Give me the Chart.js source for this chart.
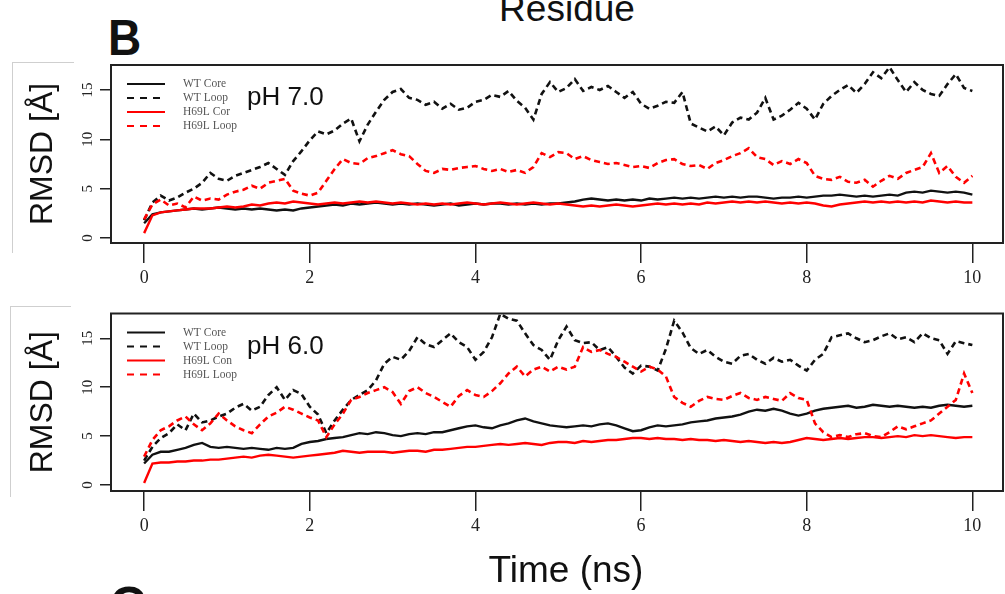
<!DOCTYPE html>
<html>
<head>
<meta charset="utf-8">
<script src="https://cdn.jsdelivr.net/npm/chart.js@4.4.1/dist/chart.umd.min.js"></script>
<style>
  html, body { margin: 0; padding: 0; background: #fff; }
  body { width: 1005px; height: 594px; position: relative; overflow: hidden; font-family: "Liberation Sans", Arial, sans-serif; }
  canvas { position: absolute; left: 0; }
  #phTop { top: 0; }
  #phBottom { top: 300px; }
  .txt { position: absolute; white-space: nowrap; line-height: 1; color: #111; }
  .bracket { position: absolute; border-top: 1px solid #cfcfcf; border-left: 1px solid #cfcfcf; }
</style>
</head>
<body>
<div class="txt" style="left:567px; top:-10px; font-size:37px; transform:translateX(-50%);">Residue</div>
<div class="txt" style="left:108px; top:13px; font-size:50px; font-weight:bold; transform:scaleX(0.92); transform-origin:left;">B</div>
<div class="bracket" style="left:12px; top:62px; width:61px; height:190px;"></div>
<div class="bracket" style="left:10px; top:306px; width:60px; height:190px;"></div>
<canvas id="phTop" width="1005" height="300"></canvas>
<canvas id="phBottom" width="1005" height="294"></canvas>
<div class="txt" style="left:566px; top:551px; font-size:37px; transform:translateX(-50%);">Time (ns)</div>
<div class="txt" style="left:110px; top:580px; font-size:50px; font-weight:bold;">C</div>
<script>
// time axis, 0..10 ns every 0.1 ns
const time = Array.from({ length: 101 }, (_, i) => +(i * 0.1).toFixed(1));
const timeTicks = [0, 2, 4, 6, 8, 10];
const rmsdTicks = [0, 5, 10, 15];

const namesPh7 = ['WT Core', 'WT Loop', 'H69L Cor', 'H69L Loop'];
const namesPh6 = ['WT Core', 'WT Loop', 'H69L Con', 'H69L Loop'];

// pH 7.0
const ph7WtCore = [1.5,2.4,2.6,2.7,2.8,2.9,3.0,2.9,3.0,3.1, 3.0,2.9,3.0,2.9,3.0,2.9,2.8,2.9,2.8,3.0,
  3.1,3.2,3.3,3.4,3.3,3.5,3.4,3.5,3.6,3.5, 3.4,3.5,3.4,3.5,3.4,3.3,3.4,3.5,3.3,3.4,
  3.5,3.4,3.5,3.5,3.4,3.5,3.4,3.5,3.4,3.5, 3.5,3.6,3.7,3.9,4.0,3.9,3.8,3.9,3.8,3.9,
  3.8,4.0,3.9,4.0,4.1,4.0,4.1,4.0,4.1,4.2, 4.1,4.2,4.1,4.2,4.2,4.1,4.0,4.1,4.1,4.2,
  4.1,4.2,4.3,4.3,4.4,4.3,4.2,4.3,4.2,4.3, 4.4,4.3,4.6,4.7,4.6,4.8,4.7,4.6,4.7,4.6, 4.4];
const ph7WtLoop = [1.8,3.6,4.3,3.8,4.1,4.6,5.0,5.6,6.6,6.0, 5.8,6.3,6.6,6.9,7.2,7.6,7.0,6.4,7.8,8.8,
  9.9,10.8,10.5,10.9,11.6,12.1,9.8,11.5,12.8,14.0, 14.8,15.1,14.2,14.0,13.5,13.8,13.1,13.6,13.0,13.2,
  13.8,14.0,14.5,14.3,14.9,13.9,13.2,12.0,14.6,15.8, 14.8,15.2,16.1,14.9,15.3,15.0,15.4,14.8,14.2,14.8,
  13.6,13.1,13.4,13.8,13.7,14.8,11.6,11.2,10.8,11.3, 10.4,11.7,12.2,12.0,12.7,14.2,12.0,12.4,13.0,13.7,
  13.1,12.0,13.6,14.4,15.0,15.5,14.7,15.6,16.8,16.2, 17.3,16.0,14.8,15.8,15.0,14.6,14.4,15.6,16.6,15.2, 14.9];
const ph7MutCore = [0.5,2.3,2.6,2.7,2.8,2.9,3.0,3.0,3.0,3.1, 3.2,3.1,3.2,3.4,3.3,3.5,3.6,3.5,3.7,3.6,
  3.5,3.4,3.5,3.6,3.5,3.6,3.7,3.6,3.7,3.6, 3.5,3.6,3.5,3.4,3.5,3.4,3.5,3.4,3.5,3.6,
  3.5,3.4,3.5,3.6,3.5,3.4,3.5,3.6,3.5,3.4, 3.5,3.4,3.3,3.2,3.3,3.2,3.3,3.4,3.3,3.2,
  3.3,3.4,3.5,3.4,3.5,3.4,3.5,3.4,3.6,3.5, 3.6,3.7,3.6,3.7,3.6,3.7,3.6,3.5,3.6,3.5,
  3.6,3.5,3.3,3.2,3.4,3.5,3.6,3.7,3.6,3.7, 3.6,3.7,3.6,3.7,3.6,3.8,3.7,3.6,3.7,3.6, 3.6];
const ph7MutLoop = [1.9,3.4,3.9,3.3,3.5,3.1,4.2,3.8,4.0,3.9, 4.4,4.7,4.9,5.3,5.0,5.6,5.8,6.0,4.8,4.5,
  4.3,4.6,5.8,7.0,8.0,7.6,7.5,8.1,8.3,8.6, 8.9,8.5,8.3,7.5,6.8,6.6,7.0,6.9,7.1,7.2,
  7.3,7.0,6.8,7.0,6.7,6.9,6.6,7.2,8.6,8.2, 8.7,8.6,8.0,8.3,7.9,7.7,7.5,7.6,7.4,7.2,
  7.3,7.1,7.6,7.9,8.0,7.5,7.3,7.4,7.0,7.6, 7.9,8.3,8.6,9.1,8.2,8.0,7.4,7.8,7.5,8.0,
  7.6,6.3,6.0,5.9,6.2,5.7,5.6,5.9,5.2,5.8, 6.3,6.0,6.6,6.9,7.2,8.6,6.6,7.3,6.2,5.6, 6.3];

// pH 6.0
const ph6WtCore = [2.2,3.1,3.4,3.4,3.6,3.8,4.1,4.3,3.9,3.8, 3.9,3.8,3.7,3.8,3.7,3.6,3.8,3.7,3.8,4.2,
  4.4,4.5,4.7,4.8,4.9,5.1,5.3,5.2,5.4,5.3, 5.1,5.0,5.2,5.3,5.2,5.4,5.4,5.6,5.8,6.0,
  6.1,5.9,5.8,6.1,6.3,6.6,6.8,6.5,6.3,6.1, 6.0,5.9,6.0,6.1,6.0,6.2,6.3,6.1,5.8,5.5,
  5.6,5.9,6.1,6.0,6.1,6.2,6.4,6.5,6.6,6.8, 6.9,7.0,7.2,7.5,7.7,7.6,7.8,7.6,7.3,7.1,
  7.3,7.6,7.8,7.9,8.0,8.1,7.9,8.0,8.2,8.1, 8.0,8.1,8.0,7.9,8.0,7.9,8.1,8.2,8.1,8.0, 8.1];
const ph6WtLoop = [2.5,3.9,4.8,5.3,6.2,5.6,7.3,6.4,6.6,7.0, 7.3,7.9,8.3,7.6,8.0,9.2,10.0,8.7,9.7,9.3,
  8.0,7.2,5.3,6.6,7.7,8.7,9.2,9.7,10.7,12.4, 13.1,12.8,13.7,15.1,14.4,14.1,14.8,15.5,14.6,14.1,
  12.8,13.6,15.1,17.5,17.0,16.8,15.5,14.3,13.8,12.8, 14.8,16.2,14.8,14.5,14.6,13.8,14.1,13.1,12.0,11.4,
  12.2,12.1,11.7,13.9,16.8,15.6,14.0,13.4,13.8,13.1, 12.6,12.4,13.2,13.4,12.8,12.4,13.0,12.6,12.8,12.2,
  11.7,12.8,13.4,15.1,15.3,15.5,15.0,14.6,14.8,15.2, 15.5,14.9,15.1,14.6,15.5,15.0,14.8,13.4,14.7,14.5, 14.3];
const ph6MutCore = [0.2,2.2,2.3,2.3,2.4,2.4,2.5,2.5,2.6,2.6, 2.7,2.8,2.9,2.8,3.0,3.1,3.0,2.9,2.8,2.9,
  3.0,3.1,3.2,3.3,3.5,3.4,3.3,3.4,3.4,3.4, 3.3,3.4,3.5,3.5,3.4,3.6,3.6,3.7,3.8,3.9,
  3.9,4.0,4.1,4.2,4.1,4.2,4.3,4.2,4.1,4.3, 4.4,4.4,4.3,4.5,4.4,4.5,4.6,4.6,4.7,4.8,
  4.8,4.7,4.8,4.7,4.7,4.6,4.7,4.6,4.6,4.5, 4.6,4.5,4.4,4.5,4.4,4.3,4.4,4.3,4.4,4.6,
  4.8,4.7,4.6,4.7,4.8,4.7,4.8,4.9,4.9,4.8, 4.9,5.0,4.9,5.1,5.0,5.1,5.0,4.9,4.8,4.9, 4.9];
const ph6MutLoop = [2.9,4.6,5.6,6.0,6.6,7.0,6.2,5.6,6.3,7.3, 6.6,6.0,5.6,5.3,6.2,7.0,7.4,8.0,7.7,7.3,
  6.9,6.6,4.9,6.2,7.3,8.7,9.0,9.4,9.7,10.0, 9.5,8.3,9.6,10.0,9.4,9.0,8.5,8.0,9.1,9.7,
  9.2,9.0,9.6,10.4,11.4,12.1,11.1,11.8,12.1,11.6, 12.1,11.8,12.1,14.1,13.6,13.8,13.4,13.1,12.6,12.1,
  11.6,12.1,11.8,11.1,9.0,8.4,8.0,8.6,9.0,8.8, 8.7,9.1,9.4,8.9,8.7,9.0,8.8,8.6,9.4,8.9,
  8.7,6.3,5.4,4.9,5.1,4.9,5.2,5.3,5.0,4.9, 5.4,6.0,5.7,6.0,6.3,6.6,7.3,8.0,8.7,11.4, 9.4];

const lineColors = ['#111', '#111', '#ff0000', '#ff0000'];
const lineDashes = [[], [6, 4], [], [6, 4]];

// box round the plot, in-plot legend and pH tag
const panelDecor = {
  id: 'panelDecor',
  afterDatasetsDraw(chart, args, opts) {
    const { ctx, chartArea: a } = chart;
    ctx.save();
    ctx.setLineDash([]);
    ctx.strokeStyle = '#222';
    ctx.lineWidth = 2;
    ctx.strokeRect(a.left, a.top, a.right - a.left, a.bottom - a.top);

    ctx.font = '11.5px "Liberation Serif"';
    ctx.textBaseline = 'middle';
    chart.data.datasets.forEach((ds, i) => {
      const y = a.top + 19 + i * 14;
      ctx.strokeStyle = ds.borderColor;
      ctx.lineWidth = 2.2;
      ctx.setLineDash(ds.borderDash.length ? [7, 6] : []);
      ctx.beginPath();
      ctx.moveTo(a.left + 16, y);
      ctx.lineTo(a.left + 54, y);
      ctx.stroke();
      ctx.fillStyle = '#555';
      ctx.fillText(ds.label, a.left + 72, y);
    });

    ctx.font = '26px "Liberation Sans"';
    ctx.fillStyle = '#111';
    ctx.textBaseline = 'alphabetic';
    ctx.fillText(opts.text, a.left + 136, a.top + 40);
    ctx.restore();
  }
};

function makePanel(id, names, series, tag, padTop, xHeight, yMin, yMax) {
  return new Chart(document.getElementById(id), {
    type: 'line',
    data: {
      labels: time,
      datasets: series.map((s, i) => ({
        label: names[i],
        data: s,
        borderColor: lineColors[i],
        borderDash: lineDashes[i],
        borderWidth: i % 2 ? 2.6 : 2.4,
        pointRadius: 0,
        tension: 0,
        order: 4 - i
      }))
    },
    options: {
      responsive: false,
      animation: false,
      layout: { padding: { top: padTop, right: 2, left: 0, bottom: 0 } },
      plugins: { legend: { display: false }, tooltip: { enabled: false }, panelDecor: { text: tag } },
      scales: {
        x: {
          type: 'linear', min: -0.4, max: 10.37,
          afterBuildTicks: s => { s.ticks = timeTicks.map(v => ({ value: v })); },
          afterFit: s => { s.height = xHeight; },
          border: { display: false },
          grid: { drawOnChartArea: false, tickLength: 20, color: '#222', lineWidth: 1.5 },
          ticks: { font: { family: 'Liberation Serif', size: 18 }, color: '#222', padding: 4, maxRotation: 0 }
        },
        y: {
          min: yMin, max: yMax,
          afterBuildTicks: s => { s.ticks = rmsdTicks.map(v => ({ value: v })); },
          afterFit: s => { s.width = 111; },
          border: { display: false },
          grid: { drawOnChartArea: false, tickLength: 11, color: '#222', lineWidth: 1.5 },
          ticks: { minRotation: 90, maxRotation: 90, crossAlign: 'center', padding: 4.5,
                   font: { family: 'Liberation Serif', size: 15 }, color: '#222' },
          title: { display: true, text: 'RMSD [Å]', color: '#111',
                   font: { family: 'Liberation Sans', size: 32 }, padding: { top: 24, bottom: 0 } }
        }
      }
    },
    plugins: [panelDecor]
  });
}

makePanel('phTop', namesPh7, [ph7WtCore, ph7WtLoop, ph7MutCore, ph7MutLoop], 'pH 7.0', 65, 57, -0.5, 17.53);
makePanel('phBottom', namesPh6, [ph6WtCore, ph6WtLoop, ph6MutCore, ph6MutLoop], 'pH 6.0', 12, 103, -0.61, 17.53);
</script>
</body>
</html>
